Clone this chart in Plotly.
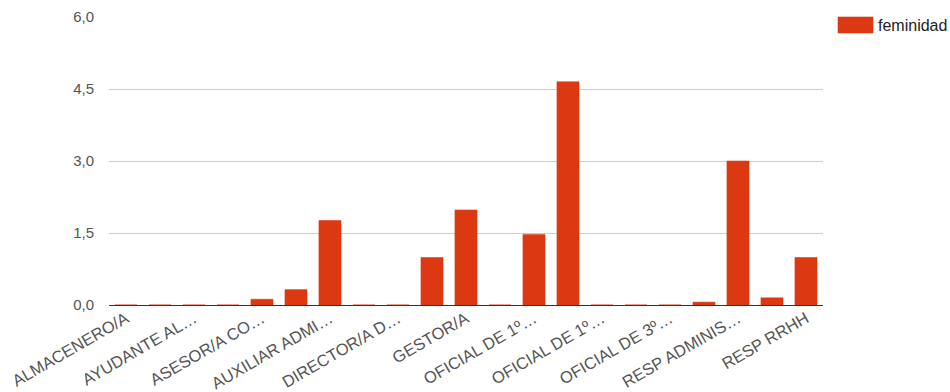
import plotly.graph_objects as go

# Job categories (one per bar) and the feminidad index for each
positions = list(range(21))
feminidad = [0, 0, 0, 0, 0.12, 0.32, 1.76, 0, 0, 0.99, 1.98,
             0, 1.47, 4.65, 0, 0, 0, 0.06, 3.0, 0.15, 0.99]

# Axis labels shown on every other category
label_positions = [0, 2, 4, 6, 8, 10, 12, 14, 16, 18, 20]
label_texts = ["ALMACENERO/A", "AYUDANTE AL…", "ASESOR/A CO…", "AUXILIAR ADMI…",
               "DIRECTOR/A D…", "GESTOR/A", "OFICIAL DE 1º…", "OFICIAL DE 1º…",
               "OFICIAL DE 3º…", "RESP ADMINIS…", "RESP RRHH"]
y_ticks = [0, 1.5, 3.0, 4.5, 6.0]

RED = "#dc3912"
FONT = "Liberation Sans, Arial, sans-serif"
TICK_COLOR = "#555555"

fig = go.Figure(
    go.Bar(
        x=positions,
        y=feminidad,
        name="feminidad",
        marker=dict(color=RED, line=dict(color="rgba(220,57,18,0.55)", width=1)),
        showlegend=False,
    )
)

fig.update_layout(
    width=950,
    height=392,
    margin=dict(l=109, r=127, t=17, b=87),
    paper_bgcolor="white",
    plot_bgcolor="white",
    bargap=0.35,
    separators=",.",
    font=dict(family=FONT, size=15, color=TICK_COLOR),
    xaxis=dict(
        range=[-0.5, 20.5],
        tickmode="array",
        tickvals=label_positions,
        ticktext=label_texts,
        tickangle=-30,
        showgrid=False,
        zeroline=False,
        showline=False,
        ticks="",
        automargin=False,
        tickfont=dict(family=FONT, size=16.5, color=TICK_COLOR),
    ),
    yaxis=dict(
        range=[0, 6],
        tickmode="array",
        tickvals=y_ticks,
        tickformat=".1f",
        showgrid=True,
        gridcolor="#cccccc",
        gridwidth=1,
        zeroline=True,
        zerolinecolor="#333333",
        zerolinewidth=1,
        showline=False,
        ticks="",
        automargin=False,
        ticklabelstandoff=14,
        tickfont=dict(family=FONT, size=15, color=TICK_COLOR),
    ),
    shapes=[
        dict(type="rect", xref="paper", yref="paper",
             x0=(838 - 109) / 714, x1=(873 - 109) / 714,
             y0=(305 - 33) / 288, y1=(305 - 17) / 288,
             fillcolor=RED, line=dict(color="rgba(220,57,18,0.6)", width=1)),
    ],
    annotations=[
        dict(text="feminidad", xref="paper", yref="paper",
             x=(876 - 109) / 714, y=(305 - 25) / 288,
             xanchor="left", yanchor="middle", showarrow=False,
             font=dict(family=FONT, size=16, color="#222222")),
    ],
)

fig.write_html("out.html")
